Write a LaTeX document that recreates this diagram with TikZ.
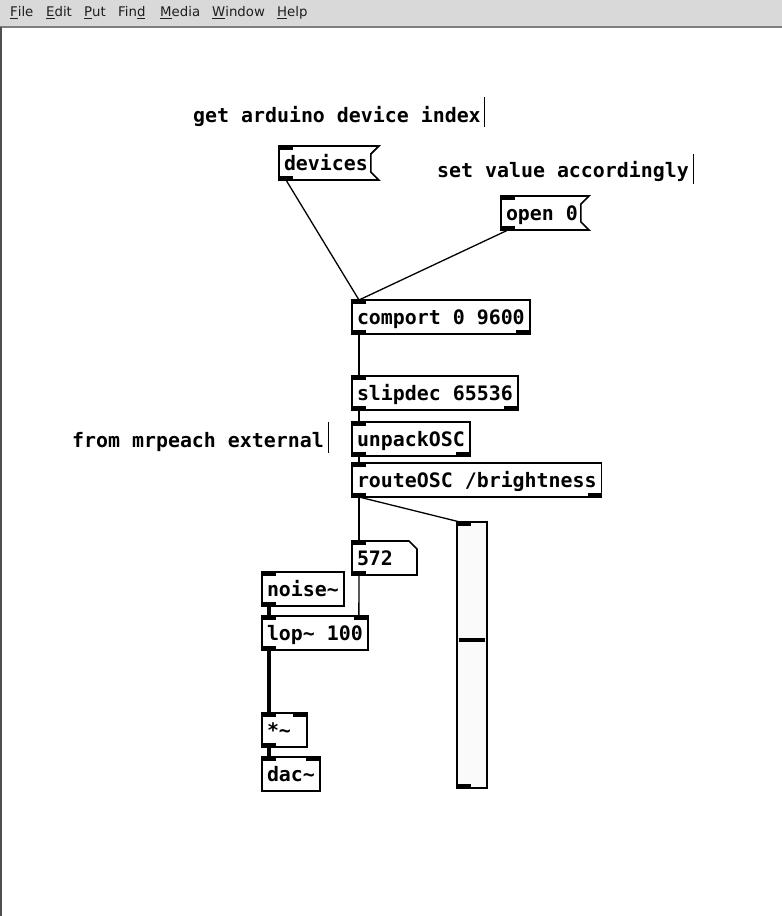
\documentclass[tikz,border=0pt]{standalone}
\usepackage{fontspec}
\newfontfamily\pdmono{DejaVu Sans Mono}
\newfontfamily\menufont{DejaVu Sans}
\usetikzlibrary{calc}
\definecolor{menubg}{HTML}{D9D9D9}
\definecolor{menuline}{HTML}{7F7F7F}
\definecolor{menutext}{HTML}{1E1E1E}
\definecolor{winborder}{HTML}{505050}
\definecolor{sliderbg}{HTML}{FAFAFA}
\newcommand\mnem[1]{\setbox0\hbox{#1}\rlap{\rule[-3pt]{\wd0}{1pt}}\box0}
\tikzset{
  pdbox/.style={draw=black, line width=1.6pt, fill=white, anchor=north west,
    outer sep=0pt, inner xsep=5pt, inner ysep=0pt, text height=24.5pt, text depth=9.5pt,
    font={\pdmono\bfseries\fontsize{19.9}{24}\selectfont}},
  pdmsg/.style={pdbox, draw=none},
  boxline/.style={draw=black, line width=1.6pt, fill=white, line join=miter},
  pdcomment/.style={anchor=base west, inner sep=0pt,
    font={\pdmono\bfseries\fontsize{19.9}{24}\selectfont}},
  cbar/.style={line width=1pt},
  ctl/.style={line width=1.3pt},
  sig/.style={line width=4pt},
  io/.style={fill=black},
  menuitem/.style={anchor=base west, inner sep=0pt, text=menutext,
    font={\menufont\fontsize{13.3}{15}\selectfont}},
}
\begin{document}
\begin{tikzpicture}[x=1pt, y=-1pt]
\useasboundingbox (0,0) rectangle (782,916);
\fill[white] (0,0) rectangle (782,916);
% menu bar
\fill[menubg] (0,0) rectangle (782,27);
\draw[menuline, line width=1.5pt] (0,27) -- (782,27);
\draw[winborder, line width=2pt] (1,27) -- (1,916);
\node[menuitem] (mfile) at (10,16) {\mnem{F}ile};
\node[menuitem] (medit) at (46,16) {\mnem{E}dit};
\node[menuitem] (mput) at (84,16) {\mnem{P}ut};
\node[menuitem] (mfind) at (118,16) {Fin\mnem{d}};
\node[menuitem] (mmedia) at (160,16) {\mnem{M}edia};
\node[menuitem] (mwindow) at (212,16) {\mnem{W}indow};
\node[menuitem] (mhelp) at (277,16) {\mnem{H}elp};

% comments
\node[pdcomment] (c1) at (193,122) {get arduino device index};
\draw[cbar] ($(c1.base east)+(4,-25)$) -- ($(c1.base east)+(4,5)$);
\node[pdcomment] (c2) at (437,177) {set value accordingly};
\draw[cbar] ($(c2.base east)+(4,-23)$) -- ($(c2.base east)+(4,7)$);
\node[pdcomment] (c3) at (72,447) {from mrpeach external};
\draw[cbar] ($(c3.base east)+(4,-25)$) -- ($(c3.base east)+(4,6)$);

% boxes (nodes placed first for names)
\node[pdmsg] (devices) at (279,146) {devices};
\node[pdmsg] (open) at (501,196) {open 0};
\node[pdbox] (comport) at (352,300) {comport 0 9600};
\node[pdbox] (slipdec) at (352,376) {slipdec 65536};
\node[pdbox] (unpack) at (352,422) {unpackOSC};
\node[pdbox] (route) at (352,463) {routeOSC /brightness};
\node[pdmsg] (num) at (352,541) {\makebox[55pt][l]{572}};
\node[pdbox] (noise) at (262,572) {noise\textasciitilde};
\node[pdbox] (lop) at (262,616) {lop\textasciitilde{} 100};
\node[pdbox] (mul) at (262,713) {\makebox[35pt][l]{*\textasciitilde}};
\node[pdbox] (dac) at (262,757) {dac\textasciitilde};
\node[draw=black, line width=1.6pt, fill=sliderbg, anchor=north west, outer sep=0pt,
  inner sep=0pt, minimum width=30pt, minimum height=266pt] (slider) at (457,522) {};

% message box flags
\draw[boxline] (devices.north west) -- ($(devices.north east)+(6,0)$)
  -- ($(devices.north east)+(-2,8)$) -- ($(devices.south east)+(-2,-8)$)
  -- ($(devices.south east)+(6,0)$) -- (devices.south west) -- cycle;
\node[pdmsg, fill=none] at (devices.north west) {devices};
\draw[boxline] (open.north west) -- ($(open.north east)+(6,0)$)
  -- ($(open.north east)+(-2,8)$) -- ($(open.south east)+(-2,-8)$)
  -- ($(open.south east)+(6,0)$) -- (open.south west) -- cycle;
\node[pdmsg, fill=none] at (open.north west) {open 0};
% number box
\draw[boxline] (num.north west) -- ($(num.north east)+(-8,0)$)
  -- ($(num.north east)+(0,8)$) -- (num.south east) -- (num.south west) -- cycle;
\node[pdmsg, fill=none] at (num.north west) {\makebox[55pt][l]{572}};

% connections
\draw[ctl] ($(devices.south west)+(7,0)$) -- ($(comport.north west)+(7,0)$);
\draw[ctl] ($(open.south west)+(7,0)$) -- ($(comport.north west)+(7,0)$);
\draw[ctl] ($(comport.south west)+(7,0)$) -- ($(slipdec.north west)+(7,0)$);
\draw[ctl] ($(slipdec.south west)+(7,0)$) -- ($(unpack.north west)+(7,0)$);
\draw[ctl] ($(unpack.south west)+(7,0)$) -- ($(route.north west)+(7,0)$);
\draw[ctl] ($(route.south west)+(7,0)$) -- ($(num.north west)+(7,0)$);
\draw[ctl] ($(route.south west)+(7,0)$) -- ($(slider.north west)+(3,0)$);
\draw[ctl] ($(num.south west)+(7,0)$) -- ($(lop.north east)+(-9,0)$);
\draw[sig] ($(noise.south west)+(7,0)$) -- ($(lop.north west)+(7,0)$);
\draw[sig] ($(lop.south west)+(7,0)$) -- ($(mul.north west)+(7,0)$);
\draw[sig] ($(mul.south west)+(7,0)$) -- ($(dac.north west)+(7,0)$);

% inlets / outlets
\foreach \n in {devices,open,comport,slipdec,unpack,route,num,noise,lop,mul,dac,slider}{
  \fill[io] ($(\n.north west)+(-0.8,-0.8)$) rectangle ++(14.8,5);
}
\foreach \n in {devices,open,comport,slipdec,unpack,route,num,noise,lop,mul,slider}{
  \fill[io] ($(\n.south west)+(-0.8,0.8)$) rectangle ++(14.8,-5);
}
\foreach \n in {comport,slipdec,unpack,route}{
  \fill[io] ($(\n.south east)+(0.8,0.8)$) rectangle ++(-14.8,-5);
}
\foreach \n in {lop,mul,dac}{
  \fill[io] ($(\n.north east)+(0.8,-0.8)$) rectangle ++(-14.8,5);
}
% slider knob
\draw[line width=4pt] ($(slider.north west)+(2,118)$) -- ++(26,0);
\end{tikzpicture}
\end{document}
